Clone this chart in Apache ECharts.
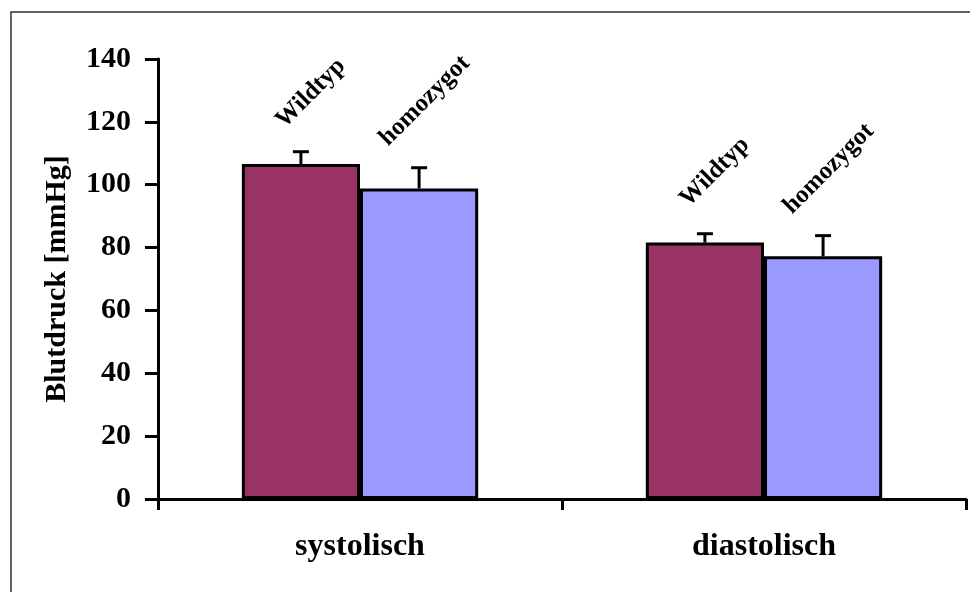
<!DOCTYPE html>
<html>
<head>
<meta charset="utf-8">
<script src="https://cdn.jsdelivr.net/npm/echarts@6/dist/echarts.min.js"></script>
<style>
  html, body { margin: 0; padding: 0; background: #fff; }
  #chart { width: 970px; height: 592px; }
</style>
</head>
<body>
<div id="chart"></div>
<script>
// Blood pressure by genotype (mean ± error)
const categories = ['systolisch', 'diastolisch'];
const seriesNames = ['Wildtyp', 'homozygot'];
const wildtypValues = [106.6, 81.6];
const wildtypErrors = [3.9, 2.8];
const homozygotValues = [98.8, 77.2];
const homozygotErrors = [6.6, 6.6];
const yTicks = [0, 20, 40, 60, 80, 100, 120, 140];

const FONT = '"Liberation Serif", "Times New Roman", serif';
const CAT_GAP = 0.415;

const chart = echarts.init(document.getElementById('chart'), null, { renderer: 'canvas' });

// error bar drawn above a bar; side = -1 for left bar, +1 for right bar
function errorBar(side, errors) {
  return function (params, api) {
    const idx = api.value(0);
    const val = api.value(1);
    const err = errors[idx];
    const base = api.coord([idx, val]);
    const top = api.coord([idx, val + err]);
    const catW = api.size([1, 0])[0];
    const barW = catW * (1 - CAT_GAP) / 2;
    const x = base[0] + side * barW / 2;
    const capHalf = 8;
    const style = { stroke: '#000', lineWidth: 3 };
    return {
      type: 'group',
      children: [
        { type: 'line', shape: { x1: x, y1: base[1], x2: x, y2: top[1] }, style: style },
        { type: 'line', shape: { x1: x - capHalf, y1: top[1], x2: x + capHalf, y2: top[1] }, style: style }
      ]
    };
  };
}

const labelBase = {
  show: true,
  position: 'top',
  distance: 0,
  rotate: 45,
  align: 'center',
  verticalAlign: 'middle',
  formatter: '{a}',
  fontFamily: FONT,
  fontWeight: 'bold',
  fontSize: 25,
  color: '#000'
};

const option = {
  animation: false,
  backgroundColor: '#fff',
  graphic: [{
    type: 'rect',
    shape: { x: 11, y: 12, width: 1200, height: 1000 },
    style: { fill: 'none', stroke: '#333', lineWidth: 1.5 },
    silent: true
  }],
  grid: { left: 158, top: 59, width: 808, height: 440, containLabel: false },
  xAxis: {
    type: 'category',
    data: categories,
    boundaryGap: true,
    axisLine: { lineStyle: { color: '#000', width: 3 } },
    axisTick: { show: true, inside: false, length: 11, lineStyle: { color: '#000', width: 3 } },
    axisLabel: { margin: 32, fontFamily: FONT, fontWeight: 'bold', fontSize: 32, color: '#000' },
    splitLine: { show: false }
  },
  yAxis: {
    type: 'value',
    min: yTicks[0],
    max: yTicks[yTicks.length - 1],
    interval: yTicks[1] - yTicks[0],
    name: 'Blutdruck [mmHg]',
    nameLocation: 'middle',
    nameGap: 86,
    nameTextStyle: { fontFamily: FONT, fontWeight: 'bold', fontSize: 30, color: '#000' },
    axisLine: { show: true, lineStyle: { color: '#000', width: 3 } },
    axisTick: { show: true, inside: false, length: 13, lineStyle: { color: '#000', width: 3 } },
    axisLabel: { margin: 27, fontFamily: FONT, fontWeight: 'bold', fontSize: 30, color: '#000' },
    splitLine: { show: false }
  },
  series: [
    {
      name: seriesNames[0],
      type: 'bar',
      data: wildtypValues,
      barGap: '0%',
      barCategoryGap: (CAT_GAP * 100) + '%',
      itemStyle: { color: '#993366', borderColor: '#000', borderWidth: 3 },
      label: Object.assign({}, labelBase, { offset: [57, -43] }),
      z: 2
    },
    {
      name: seriesNames[1],
      type: 'bar',
      data: homozygotValues,
      barGap: '0%',
      barCategoryGap: (CAT_GAP * 100) + '%',
      itemStyle: { color: '#9999FF', borderColor: '#000', borderWidth: 3 },
      label: Object.assign({}, labelBase, { offset: [66, -58] }),
      z: 2
    },
    {
      type: 'custom',
      renderItem: errorBar(-1, wildtypErrors),
      data: wildtypValues.map((v, i) => [i, v]),
      encode: { x: 0, y: 1 },
      z: 3
    },
    {
      type: 'custom',
      renderItem: errorBar(1, homozygotErrors),
      data: homozygotValues.map((v, i) => [i, v]),
      encode: { x: 0, y: 1 },
      z: 3
    }
  ]
};

chart.setOption(option);
</script>
</body>
</html>
